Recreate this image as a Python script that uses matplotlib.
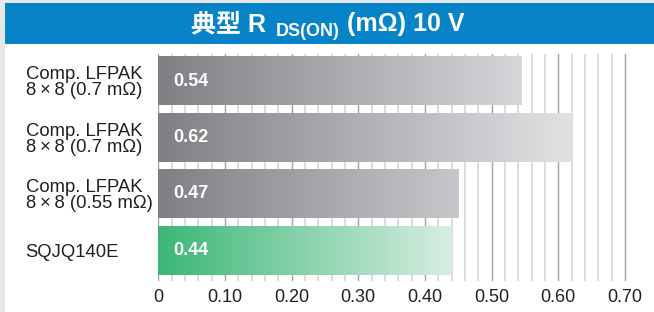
import numpy as np
import matplotlib
matplotlib.use("Agg")
import matplotlib.pyplot as plt
from matplotlib.patches import Rectangle
from matplotlib.colors import to_rgb

# data
categories = [
    "Comp. LFPAK\n8\u2009\u00d7\u20098 (0.7 m\u03a9)",
    "Comp. LFPAK\n8\u2009\u00d7\u20098 (0.7 m\u03a9)",
    "Comp. LFPAK\n8\u2009\u00d7\u20098 (0.55 m\u03a9)",
    "SQJQ140E",
]
bar_lengths = [0.545, 0.62, 0.45, 0.44]
value_labels = ["0.54", "0.62", "0.47", "0.44"]
xticks = [0, 0.1, 0.2, 0.3, 0.4, 0.5, 0.6, 0.7]
xtick_labels = ["0", "0.10", "0.20", "0.30", "0.40", "0.50", "0.60", "0.70"]

W, H = 654, 312
sans = ["Liberation Sans", "DejaVu Sans"]
plt.rcParams["font.family"] = sans
text_col = "#231f20"

fig = plt.figure(figsize=(W / 100, H / 100), dpi=100)
fig.patch.set_facecolor("white")

# frame strips and title band
fig.add_artist(Rectangle((0, 0), 4.7 / W, 1, transform=fig.transFigure,
                         color="#e6e7e9", lw=0, zorder=0))
fig.add_artist(Rectangle((0, 1 - 3 / H), 1, 3 / H, transform=fig.transFigure,
                         color="#e6e7e9", lw=0, zorder=0))
fig.add_artist(Rectangle((4.7 / W, 1 - 43.7 / H), 1, 40.7 / H,
                         transform=fig.transFigure, color="#0784c7", lw=0, zorder=0))

ax = fig.add_axes([158.3 / W, 1 - 281 / H, 480 / W, 227 / H])
ax.patch.set_alpha(0)

# gradient bars
grey0, grey1 = np.array(to_rgb("#7f8084")), np.array(to_rgb("#e1e2e4"))
green0, green1 = np.array(to_rgb("#3bb777")), np.array(to_rgb("#d7eee1"))
bar_h = 0.85
for i, v in enumerate(bar_lengths):
    if categories[i] == "SQJQ140E":
        c0, c1, span = green0, green1, 0.44
    else:
        c0, c1, span = grey0, grey1, 0.62
    xs = np.linspace(0, v, 300)
    frac = np.clip(xs / span, 0, 1)[None, :, None]
    img = c0 + (c1 - c0) * frac
    ax.imshow(img, extent=[0, v, i + bar_h / 2, i - bar_h / 2],
              aspect="auto", interpolation="bilinear", zorder=2)
    ax.text(0.022, i, value_labels[i], color="white", fontsize=13,
            fontweight="bold", va="center", ha="left", zorder=3)

ax.set_xlim(0, 0.72)
ax.set_ylim(3.54, -0.478)

ax.set_xticks(xticks)
ax.set_xticklabels(xtick_labels, fontsize=13, color=text_col)
ax.set_xticks([x / 100 for x in range(2, 71, 2) if x % 10], minor=True)
ax.grid(which="minor", axis="x", color="#dcdcdc", lw=1.4, zorder=0)
ax.grid(which="major", axis="x", color="#a0a0a0", lw=1.0, zorder=0)
ax.set_axisbelow(True)

ax.set_yticks(range(len(categories)))
ax.set_yticklabels(categories, fontsize=13.3, color=text_col, ha="left",
                   linespacing=0.95)
ax.tick_params(axis="y", length=0, pad=(158.3 - 25.5) * 0.72)
ax.tick_params(axis="x", which="both", length=0, pad=6)
for s in ax.spines.values():
    s.set_visible(False)

# title with subscript, pieces laid out by measured widths
title_font = ["Liberation Sans", "Noto Sans CJK SC", "DejaVu Sans"]
base_y = 1 - 31 / H
sub_y = 1 - 36.5 / H
t1 = fig.text(0, base_y, "\u5178\u578b R", fontsize=18, fontweight="bold",
              color="white", family=title_font, va="baseline")
t2 = fig.text(0, sub_y, "DS(ON)", fontsize=13, fontweight="bold",
              color="white", family=title_font, va="baseline")
t3 = fig.text(0, base_y, "(m\u03a9) 10 V", fontsize=18, fontweight="bold",
              color="white", family=title_font, va="baseline")
r = fig.canvas.get_renderer()
w1 = t1.get_window_extent(r).width
w2 = t2.get_window_extent(r).width
w3 = t3.get_window_extent(r).width
gap1, gap2 = 9, 8
x0 = (W / 2 + 1) - (w1 + gap1 + w2 + gap2 + w3) / 2
t1.set_x(x0 / W)
t2.set_x((x0 + w1 + gap1) / W)
t3.set_x((x0 + w1 + gap1 + w2 + gap2) / W)

fig.savefig("out.png", dpi=100)
